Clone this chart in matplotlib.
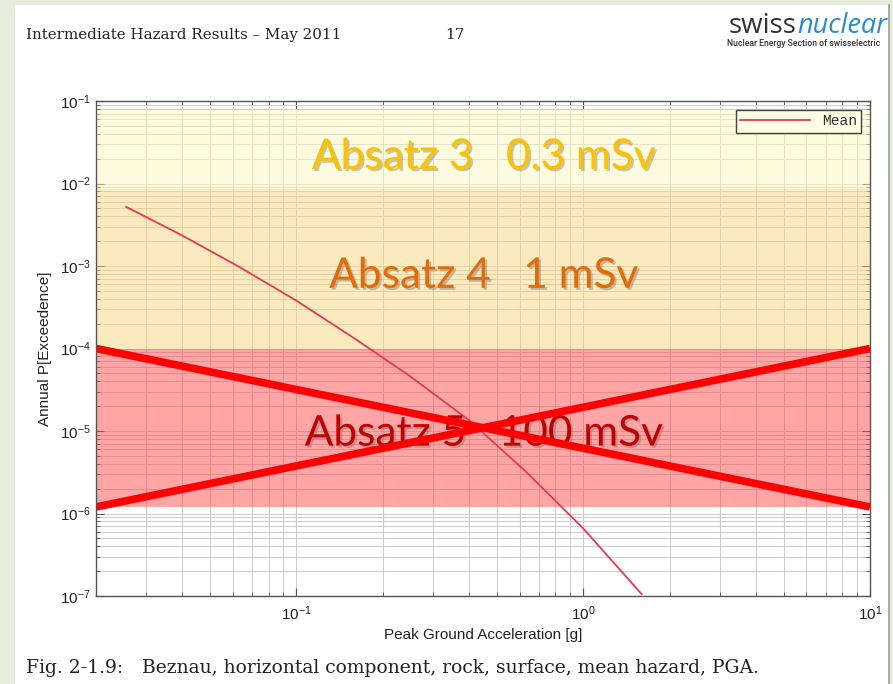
"""Beznau mean hazard curve (PGA) with the dose-limit overlay bands."""

import matplotlib
import matplotlib.pyplot as plt
import matplotlib.patheffects as pe
from matplotlib.patches import Rectangle
from matplotlib.lines import Line2D

matplotlib.use("Agg")

W, H = 893, 684

# mean hazard curve
pga = [0.0255, 0.040, 0.063, 0.10, 0.158, 0.25, 0.40, 0.63, 1.0, 1.6]
p_exceed = [5.2e-3, 2.34e-3, 9.8e-4, 3.8e-4, 1.35e-4, 4.57e-5, 1.35e-5, 3.24e-6,
            6.6e-7, 1.05e-7]

# overlay bands (lower, upper annual probability)
band_limits = [(8.5e-3, 7.8e-2), (1e-4, 8.5e-3), (1.2e-6, 1e-4)]
band_colors = ["#FFF9C1", "#FBD781", "#FF4D4D"]
band_labels = ["Absatz 3   0.3 mSv", "Absatz 4   1 mSv", "Absatz 5   100 mSv"]
band_label_y = [2.1e-2, 7.6e-4, 9.3e-6]
band_label_colors = ["#FFC000", "#E36C09", "#C00000"]

# crossed-out lines over the red band
cross_x = [0.02, 10]
cross_a = [1e-4, 1.2e-6]
cross_b = [1.2e-6, 1e-4]

plt.rcParams["font.family"] = ["Liberation Sans", "DejaVu Sans"]


def px(x, y):
    return x / W, 1 - y / H


fig = plt.figure(figsize=(W / 100, H / 100), dpi=100)
fig.patch.set_facecolor("#E8ECDD")
fig.add_artist(Rectangle(px(15, 684), (889 - 15) / W, (684 - 5) / H,
                         transform=fig.transFigure, facecolor="white",
                         edgecolor="none", zorder=0))
fig.add_artist(Line2D([889 / W, 889 / W], [0, 1 - 5 / H], transform=fig.transFigure,
                      color="#9A9A9A", lw=1.2))

# page header
serif = ["DejaVu Serif"]
fig.text(*px(26, 35), "Intermediate Hazard Results – May 2011", family=serif,
         fontsize=10.9, color="#222222", va="center")
fig.text(*px(445, 35), "17", family=serif, fontsize=10.9, color="#222222", va="center")
fig.text(*px(797, 33), "swiss", family="Open Sans", fontsize=20, color="#333333",
         ha="right", va="baseline")
fig.text(*px(797, 33), "nuclear", family="Open Sans", style="italic", fontsize=19.5,
         color="#2A8CD0", ha="left", va="baseline")
fig.text(*px(727, 44), "Nuclear Energy Section of swisselectric", family="Roboto",
         fontsize=6.2, color="#333333", va="center", fontweight="medium")

# caption
fig.text(*px(26, 668), "Fig. 2-1.9:", family=serif, fontsize=13.5, color="#222222",
         va="center")
fig.text(*px(142, 668), "Beznau, horizontal component, rock, surface, mean hazard, PGA.",
         family=serif, fontsize=13.5, color="#222222", va="center")

ax = fig.add_axes([96 / W, 1 - 596 / H, (870 - 96) / W, (596 - 101) / H])
ax.set_xscale("log")
ax.set_yscale("log")
ax.set_xlim(0.02, 10)
ax.set_ylim(1e-7, 1e-1)

ax.grid(True, which="both", color="#CDCDCD", lw=0.8, zorder=0)
ax.set_axisbelow(True)

for (lo, hi), c in zip(band_limits, band_colors):
    ax.axhspan(lo, hi, color=c, alpha=0.5, lw=0, zorder=1)

ax.plot(pga, p_exceed, color="#E33A55", lw=1.3, zorder=2, label="Mean")

for label, y, c in zip(band_labels, band_label_y, band_label_colors):
    ax.text(0.45, y, label, color=c, fontsize=30.5, family="Lato", ha="center",
            va="center", zorder=3, path_effects=[pe.withSimplePatchShadow(
                offset=(1.5, -1.5), shadow_rgbFace="#707070", alpha=0.4)])

ax.plot(cross_x, cross_a, color="#FF0000", lw=5.5, zorder=4, solid_capstyle="butt")
ax.plot(cross_x, cross_b, color="#FF0000", lw=5.5, zorder=4, solid_capstyle="butt")

for s in ax.spines.values():
    s.set_color("#555555")
    s.set_linewidth(1.0)
    s.set_zorder(5)
ax.tick_params(which="both", direction="in", top=True, right=True, colors="#555555",
               labelcolor="#222222", labelsize=11)
ax.tick_params(which="major", length=6)
ax.tick_params(which="minor", length=3)
ax.tick_params(axis="x", pad=6)
ax.set_xlabel("Peak Ground Acceleration [g]", fontsize=11, color="#222222", labelpad=4)
ax.set_ylabel("Annual P[Exceedence]", fontsize=11, color="#222222", labelpad=6)

leg = ax.legend(loc="upper right", prop={"family": "Liberation Mono", "size": 10.5},
                fancybox=False, edgecolor="#404040", facecolor="#FFFDE2", framealpha=1,
                handlelength=4.8, borderaxespad=0.6, borderpad=0.3)
leg.get_frame().set_linewidth(1.0)
leg.set_zorder(6)
for t in leg.get_texts():
    t.set_color("#333333")

fig.savefig("out.png", dpi=100, facecolor=fig.get_facecolor())
